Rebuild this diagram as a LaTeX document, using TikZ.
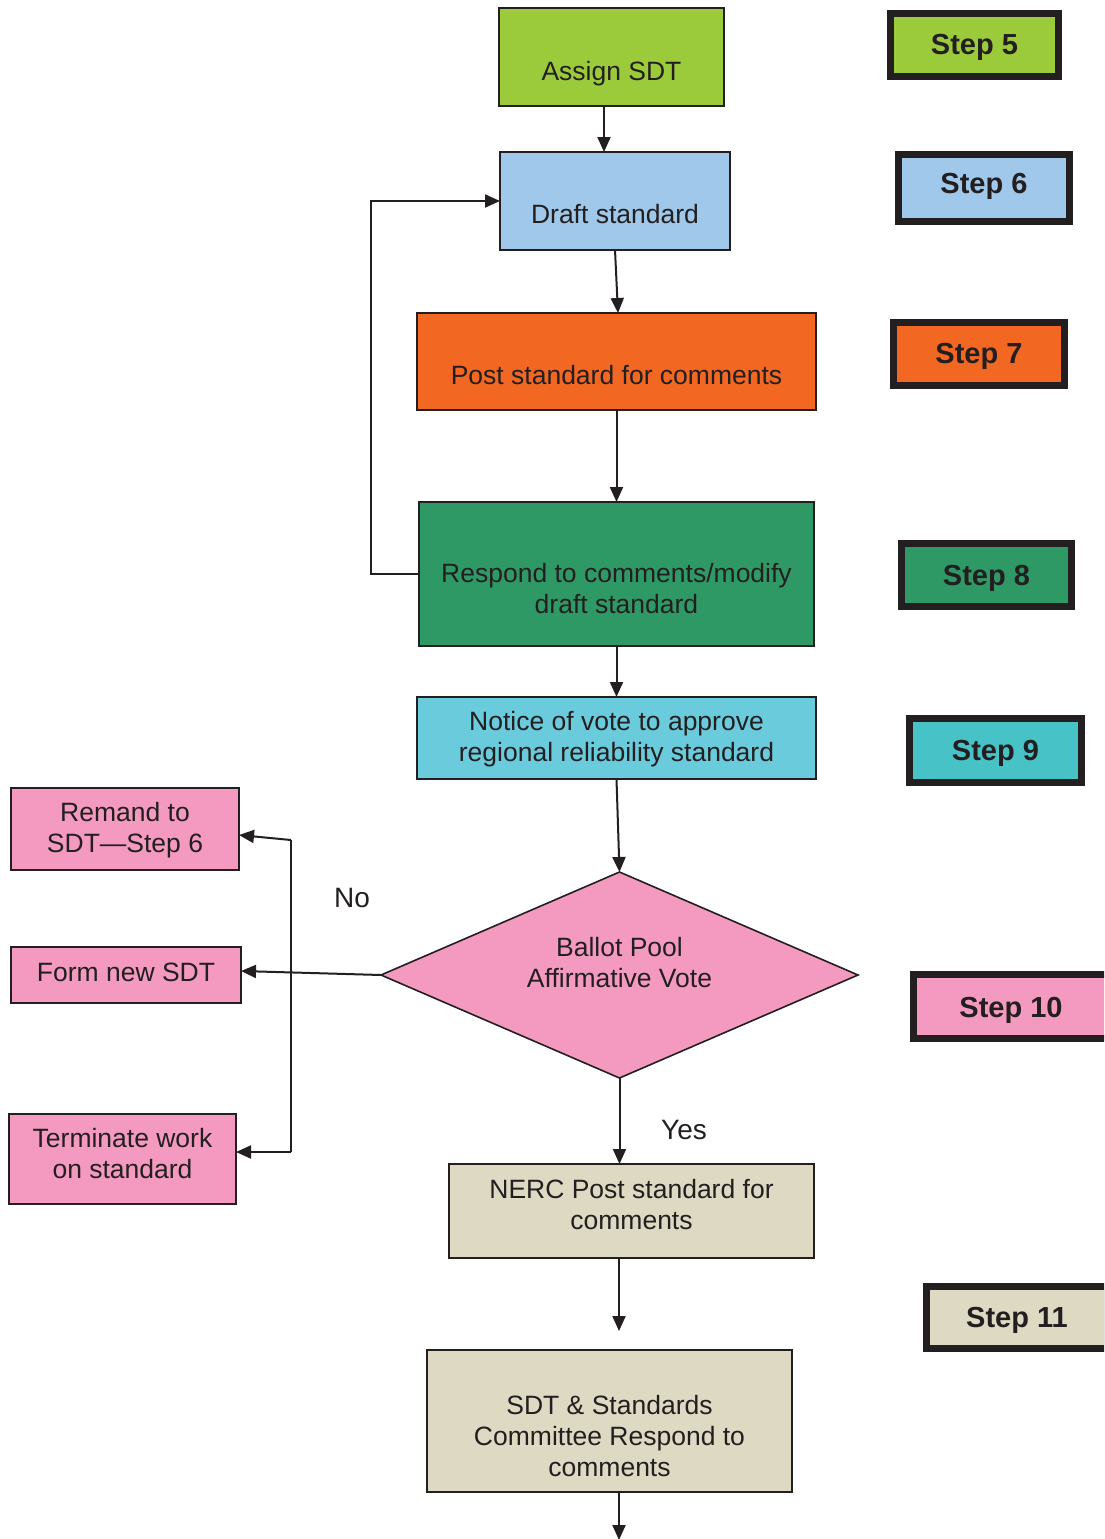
\documentclass[tikz,border=0pt]{standalone}
\usepackage{fontspec}
\setmainfont{Liberation Sans}
\usetikzlibrary{arrows.meta,shapes.geometric}
\definecolor{txt}{HTML}{231F20}
\definecolor{cgreen}{HTML}{9BCB3B}
\definecolor{cblue}{HTML}{9FC8EA}
\definecolor{corange}{HTML}{F26722}
\definecolor{cdgreen}{HTML}{2F9966}
\definecolor{ccyan}{HTML}{6ACBDC}
\definecolor{cteal}{HTML}{47C2C6}
\definecolor{cpink}{HTML}{F49AC1}
\definecolor{cbeige}{HTML}{DDD9C2}
\begin{document}
\begin{tikzpicture}[x=1pt,y=-1pt,
  box/.style={draw=txt, line width=2pt, inner sep=0pt, outer sep=0pt},
  stepbox/.style={draw=txt, line width=7pt, inner sep=0pt, outer sep=0pt},
  lbl/.style={anchor=base, align=center, font=\fontsize{26.5}{31}\selectfont, text=txt, inner sep=0pt},
  steplbl/.style={anchor=base, font=\fontsize{29}{34}\selectfont\bfseries, text=txt, inner sep=0pt},
  yn/.style={anchor=base, font=\fontsize{28}{33}\selectfont, text=txt, inner sep=0pt},
  arr/.style={-{Triangle[length=15pt,width=13pt]}, line width=2pt, draw=txt},
  ln/.style={line width=2pt, draw=txt}]
\useasboundingbox (0,0) rectangle (1104,1539);
\clip (0,0) rectangle (1104,1539);

% main flow boxes
\node[box, fill=cgreen, minimum width=225pt, minimum height=98pt] (assign) at (611.5,57) {};
\node[lbl] (tassign) at (611.5,80) {Assign SDT};
\node[box, fill=cblue, minimum width=230pt, minimum height=98pt] (draft) at (615,201) {};
\node[lbl] (tdraft) at (615,223) {Draft standard};
\node[box, fill=corange, minimum width=399pt, minimum height=97pt] (post) at (616.5,361.5) {};
\node[lbl] (tpost) at (616.5,384) {Post standard for comments};
\node[box, fill=cdgreen, minimum width=395pt, minimum height=144pt] (respond) at (616.5,574) {};
\node[lbl] (trespond) at (616.5,613) {Respond to comments/modify\\draft standard};
\node[box, fill=ccyan, minimum width=399pt, minimum height=82pt] (notice) at (616.5,738) {};
\node[lbl] (tnotice) at (616.5,761) {Notice of vote to approve\\regional reliability standard};
\node[diamond, draw=txt, line width=1.6pt, fill=cpink, minimum width=477pt, minimum height=206pt, inner sep=0pt, outer sep=0pt, aspect=2.3] (dia) at (619.5,975) {};
\node[lbl] (tdia) at (619.5,987) {Ballot Pool\\Affirmative Vote};
\node[box, fill=cbeige, minimum width=365pt, minimum height=94pt] (nerc) at (631.5,1211) {};
\node[lbl] (tnerc) at (631.5,1229) {NERC Post standard for\\comments};
\node[box, fill=cbeige, minimum width=365pt, minimum height=142pt] (sdtstd) at (609.5,1421) {};
\node[lbl] (tsdtstd) at (609.5,1476) {SDT \& Standards\\Committee Respond to\\comments};

% left outcome boxes
\node[box, fill=cpink, minimum width=228pt, minimum height=82pt] (remand) at (125,829) {};
\node[lbl] (tremand) at (125,852) {Remand to\\SDT---Step 6};
\node[box, fill=cpink, minimum width=230pt, minimum height=56pt] (form) at (126,975) {};
\node[lbl] (tform) at (126,981) {Form new SDT};
\node[box, fill=cpink, minimum width=227pt, minimum height=90pt] (term) at (122.5,1159) {};
\node[lbl] (tterm) at (122.5,1178) {Terminate work\\on standard};

% step boxes
\node[stepbox, fill=cgreen, minimum width=168pt, minimum height=63pt] (s5) at (974.5,45) {};
\node[steplbl] (ts5) at (974.5,54) {Step 5};
\node[stepbox, fill=cblue, minimum width=171pt, minimum height=67pt] (s6) at (984,187.5) {};
\node[steplbl] (ts6) at (984,193.5) {Step 6};
\node[stepbox, fill=corange, minimum width=171pt, minimum height=63pt] (s7) at (979,354) {};
\node[steplbl] (ts7) at (979,363.5) {Step 7};
\node[stepbox, fill=cdgreen, minimum width=170pt, minimum height=63pt] (s8) at (986.5,575) {};
\node[steplbl] (ts8) at (986.5,585.5) {Step 8};
\node[stepbox, fill=cteal, minimum width=172pt, minimum height=64pt] (s9) at (995.5,750.5) {};
\node[steplbl] (ts9) at (995.5,760.5) {Step 9};
\node[stepbox, fill=cpink, minimum width=195pt, minimum height=64pt] (s10) at (1011,1006.5) {};
\node[steplbl] (ts10) at (1011,1017) {Step 10};
\node[stepbox, fill=cbeige, minimum width=181pt, minimum height=62pt] (s11) at (1017,1317.5) {};
\node[steplbl] (ts11) at (1017,1327) {Step 11};

% branch labels
\node[yn] (no) at (352,907) {No};
\node[yn] (yes) at (684,1139) {Yes};

% helper coordinates
\coordinate (lp) at (371,0);
\coordinate (vt) at (291,840);
\coordinate (vb) at (291,1152);
\coordinate (e1) at (619,1331);
\coordinate (e2) at (619,1540);

% connectors
\draw[arr] ([xshift=-7.5pt]assign.south) -- ([xshift=-11pt]draft.north);
\draw[arr] (draft.south) -- ([xshift=1.5pt]post.north);
\draw[arr] (post.south) -- (respond.north);
\draw[arr] (respond.south) -- (notice.south |- notice.north);
\draw[arr] (notice.south) -- (dia.north);
\draw[arr] (dia.south) -- (dia.south |- nerc.north);
\draw[arr] (e1 |- nerc.south) -- (e1);
\draw[arr] (e2 |- sdtstd.south) -- (e2);
\draw[arr] (respond.west) -- (respond.west -| lp) |- (draft.west);
\draw[arr] (dia.west) -- ([yshift=4pt]form.east);
\draw[ln] (vt) -- (vb);
\draw[arr] (vt) -- ([yshift=-6pt]remand.east);
\draw[arr] (vb) -- (vb -| term.east);
\end{tikzpicture}
\end{document}
